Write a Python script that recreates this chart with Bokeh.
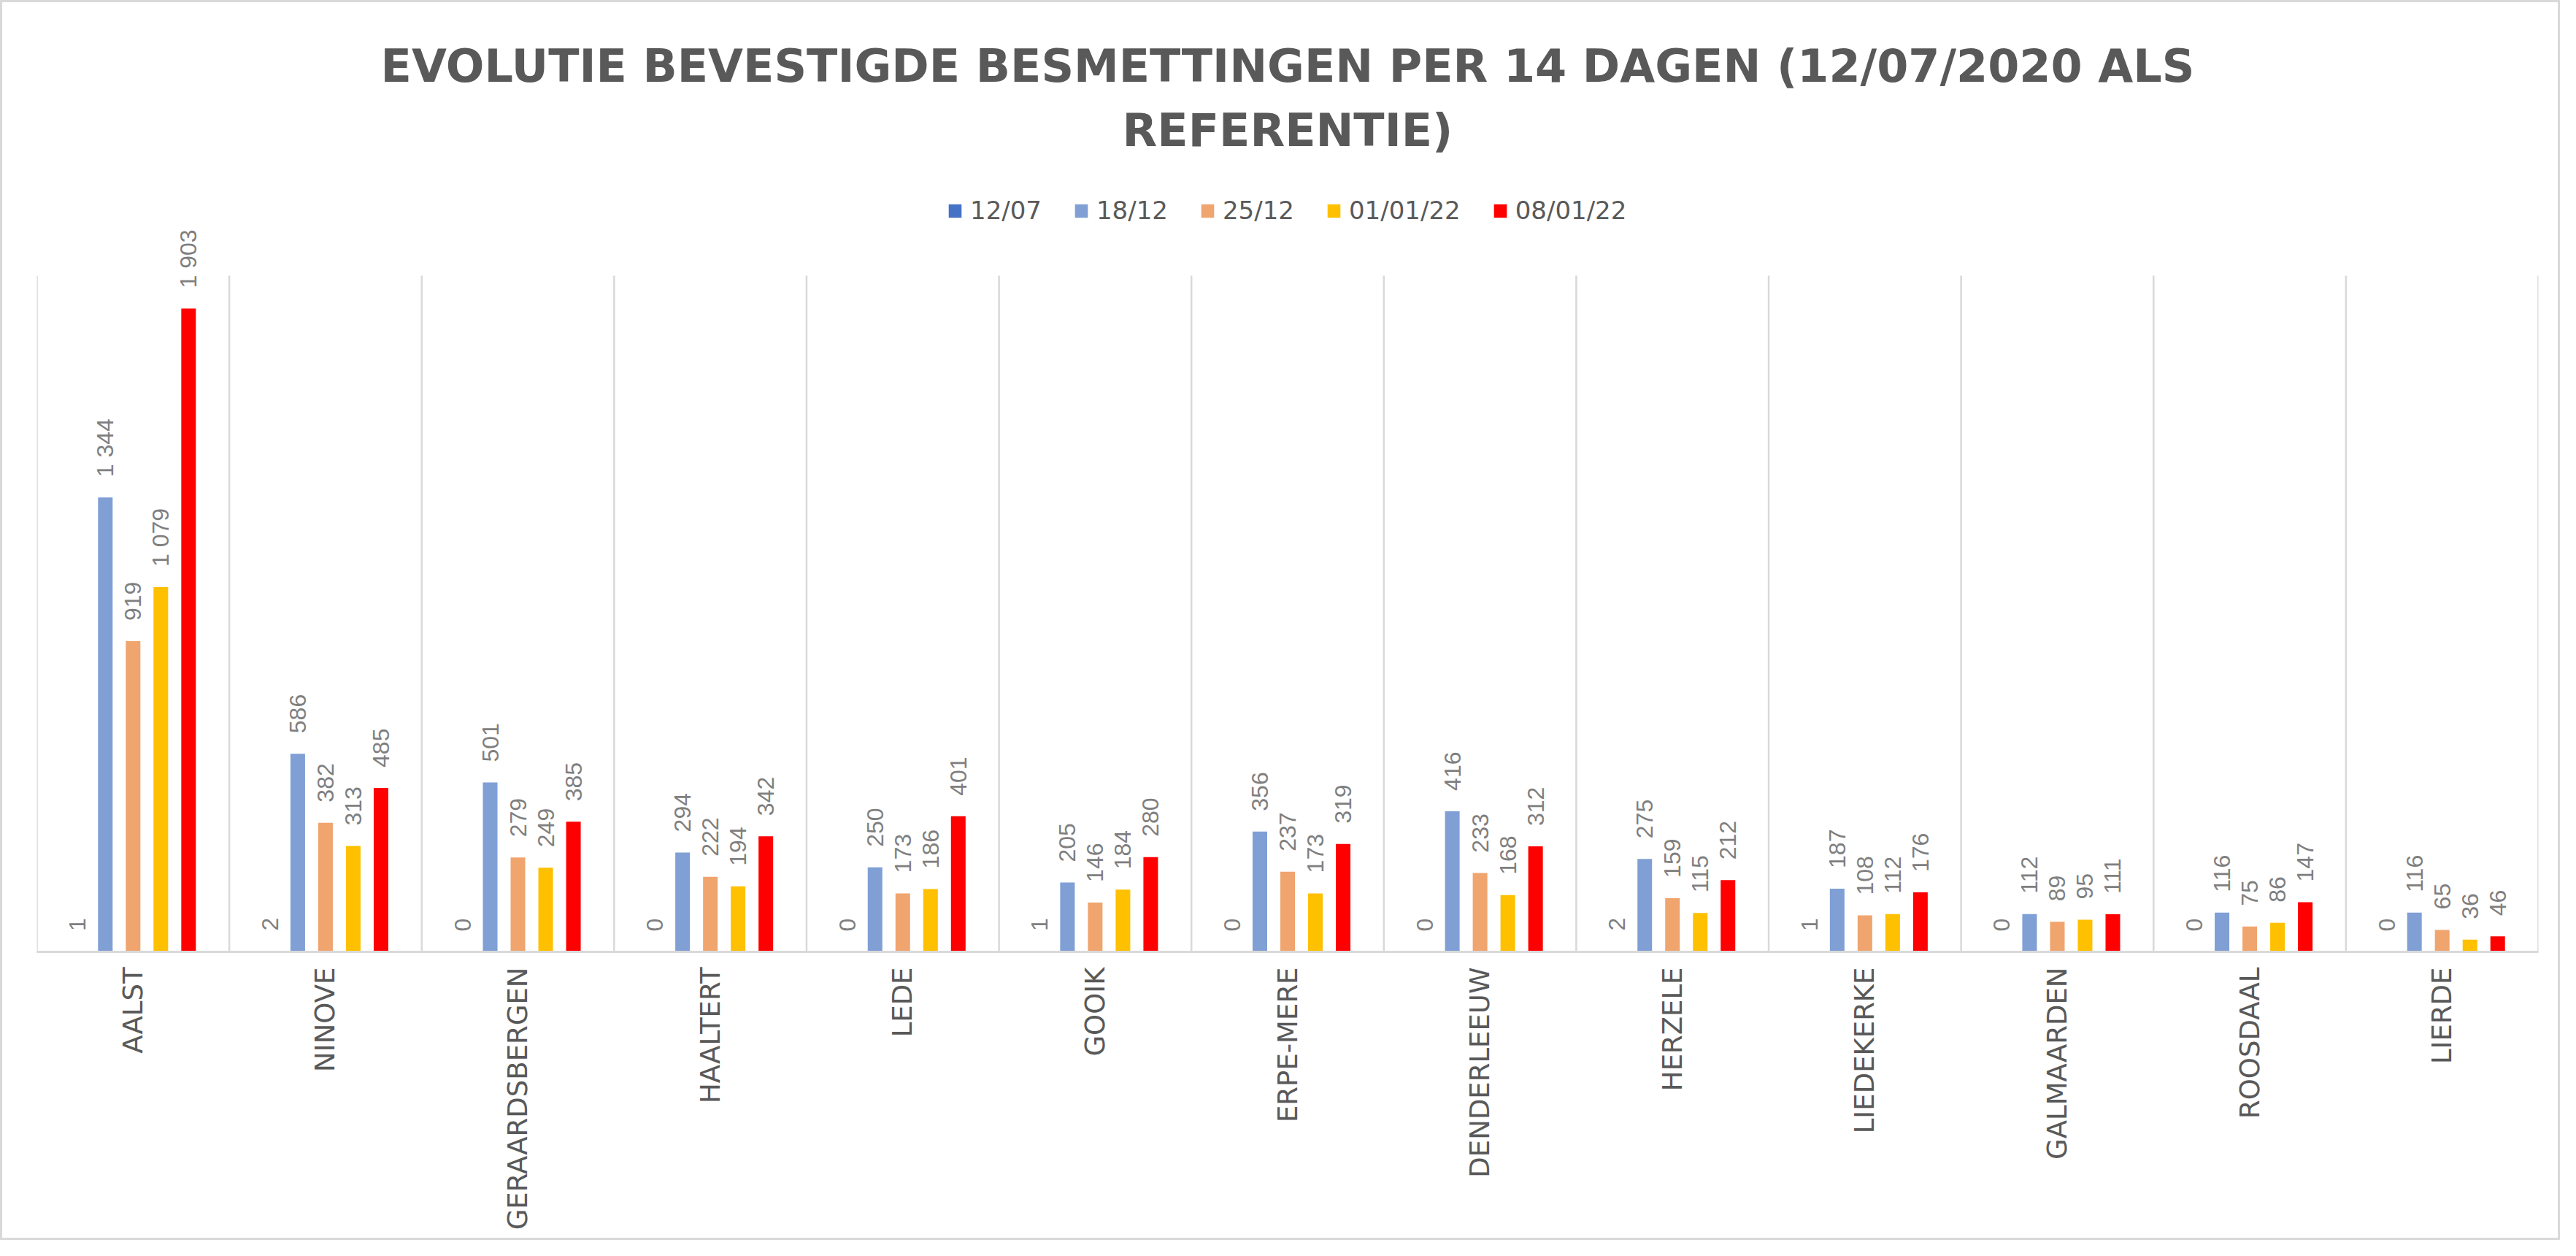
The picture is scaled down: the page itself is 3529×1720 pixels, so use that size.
import math
from bokeh.plotting import figure
from bokeh.models import (FactorRange, ColumnDataSource, LabelSet, Legend, LegendItem, Label)
from bokeh.transform import dodge
from bokeh.core.properties import value
from bokeh.embed import file_html
from bokeh.resources import INLINE

# ---- data ----
categories = ["AALST", "NINOVE", "GERAARDSBERGEN", "HAALTERT", "LEDE", "GOOIK", "ERPE-MERE",
              "DENDERLEEUW", "HERZELE", "LIEDEKERKE", "GALMAARDEN", "ROOSDAAL", "LIERDE"]
series_names = ["12/07", "18/12", "25/12", "01/01/22", "08/01/22"]
v_1207 = [1, 2, 0, 0, 0, 1, 0, 0, 2, 1, 0, 0, 0]
v_1812 = [1344, 586, 501, 294, 250, 205, 356, 416, 275, 187, 112, 116, 116]
v_2512 = [919, 382, 279, 222, 173, 146, 237, 233, 159, 108, 89, 75, 65]
v_0101 = [1079, 313, 249, 194, 186, 184, 173, 168, 115, 112, 95, 86, 36]
v_0801 = [1903, 485, 385, 342, 401, 280, 319, 312, 212, 176, 111, 147, 46]
y_max = 2000
title_line1 = "EVOLUTIE BEVESTIGDE BESMETTINGEN PER 14 DAGEN (12/07/2020 ALS"
title_line2 = "REFERENTIE)"

series_values = [v_1207, v_1812, v_2512, v_0101, v_0801]
colors = ["#4472C4", "#7F9FD5", "#F0A46E", "#FFC000", "#FF0000"]


def fmt(v):
    return "{:,}".format(v).replace(",", " ")


# ---- layout (canvas pixels) ----
W, H = 3507, 1698
FL, FR, FB = 47, 33, 398
frame_h = H - FB          # frame spans from canvas top down to the baseline
grid_top = 374            # canvas y where the value y_max sits
y_end = y_max * frame_h / (frame_h - grid_top)

p = figure(x_range=FactorRange(*categories, range_padding=0), y_range=(0, y_end),
           width=W, height=H, output_backend="svg", toolbar_location=None,
           y_axis_location=None,
           min_border_left=FL, min_border_right=FR, min_border_top=0, min_border_bottom=FB)
p.outline_line_color = None
p.background_fill_color = "white"
p.border_fill_color = "white"
p.styles = {"border": "3px solid #D9D9D9"}
p.xgrid.grid_line_color = None
p.ygrid.grid_line_color = None

# vertical separators between the categories (from 0 to the axis maximum)
bounds = list(range(len(categories) + 1))
p.segment(x0=bounds, y0=[0] * len(bounds), x1=bounds, y1=[y_max] * len(bounds),
          line_color="#D9D9D9", line_width=2.5)

data = {"cat": categories}
for i, vals in enumerate(series_values):
    data[f"s{i}"] = vals
    data[f"l{i}"] = [fmt(v) for v in vals]
src = ColumnDataSource(data)

step = 0.1442
bw = 0.0759
renderers = []
for i in range(len(series_values)):
    off = (i - 2) * step
    r = p.vbar(x=dodge("cat", off, range=p.x_range), top=f"s{i}", width=bw, bottom=0,
               source=src, fill_color=colors[i], line_color=None)
    renderers.append(r)
    ls = LabelSet(x=dodge("cat", off, range=p.x_range), y=f"s{i}", text=f"l{i}", source=src,
                  angle=math.pi / 2, text_align="left", text_baseline="middle", y_offset=28,
                  text_font=value("Liberation Sans"), text_font_size="32px",
                  text_color="#7F7F7F")
    p.add_layout(ls)

# category axis
ax = p.xaxis[0]
ax.axis_line_color = "#D9D9D9"
ax.axis_line_width = 3
ax.major_tick_line_color = None
ax.minor_tick_line_color = None
ax.major_tick_out = 0
ax.major_tick_in = 0
ax.major_label_orientation = math.pi / 2
ax.major_label_standoff = 21
ax.major_label_text_font = "DejaVu Sans"
ax.major_label_text_font_size = "37px"
ax.major_label_text_color = "#595959"

# legend
items = [LegendItem(label=n, renderers=[r]) for n, r in zip(series_names, renderers)]
legend = Legend(items=items, orientation="horizontal", location=(1247, frame_h - 285 - 20),
                glyph_width=22, glyph_height=23, label_standoff=10, spacing=43,
                padding=0, margin=0, border_line_color=None, background_fill_alpha=0,
                label_text_font="DejaVu Sans", label_text_font_size="34px",
                label_text_color="#595959")
p.add_layout(legend, "center")

# title (two centred lines)
cx = 1713.5
for txt, base in [(title_line1, 87), (title_line2, 175)]:
    p.add_layout(Label(x=cx, y=frame_h - base, x_units="screen", y_units="screen",
                       text=txt, text_align="center", text_baseline="alphabetic",
                       text_font="DejaVu Sans", text_font_style="bold",
                       text_font_size="62px", text_color="#595959"))

open("out.html", "w").write(file_html(p, INLINE))
